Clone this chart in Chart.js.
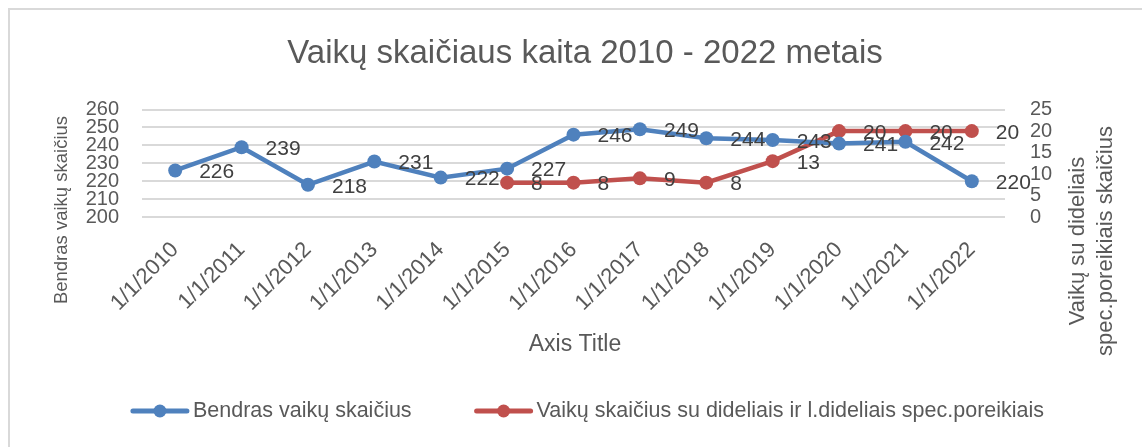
<!DOCTYPE html>
<html>
<head>
<meta charset="utf-8">
<script src="https://cdn.jsdelivr.net/npm/chart.js@4/dist/chart.umd.min.js"></script>
<style>
  html, body { margin: 0; padding: 0; background: #fff; }
  #wrap { position: relative; width: 1142px; height: 447px; overflow: hidden; }
  #frame { position: absolute; left: 8px; top: 8px; width: 1200px; height: 500px;
           border-left: 2px solid #d9d9d9; border-top: 2px solid #d9d9d9; }
  canvas { position: absolute; left: 0; top: 0; }
</style>
</head>
<body>
<div id="wrap">
  <div id="frame"></div>
  <canvas id="vaikaichart" width="1142" height="447"></canvas>
</div>
<script>
const years = ["1/1/2010", "1/1/2011", "1/1/2012", "1/1/2013", "1/1/2014", "1/1/2015", "1/1/2016",
               "1/1/2017", "1/1/2018", "1/1/2019", "1/1/2020", "1/1/2021", "1/1/2022"];
const bendras = [226, 239, 218, 231, 222, 227, 246, 249, 244, 243, 241, 242, 220];
const specPoreikiai = [null, null, null, null, null, 8, 8, 9, 8, 13, 20, 20, 20];
const leftTicks = [200, 210, 220, 230, 240, 250, 260];
const rightTicks = [0, 5, 10, 15, 20, 25];

const blue = "#4f81bd";
const red = "#c0504d";
const txt = "#595959";
const fontName = "'Liberation Sans', Arial, sans-serif";

// value labels right of each point
const pointLabels = {
    id: "pointLabels",
    afterDatasetsDraw(chart) {
        const ctx = chart.ctx;
        ctx.save();
        ctx.font = "21px " + fontName;
        ctx.fillStyle = "#404040";
        ctx.textAlign = "left";
        ctx.textBaseline = "middle";
        chart.data.datasets.forEach((ds, i) => {
            chart.getDatasetMeta(i).data.forEach((pt, j) => {
                if (ds.data[j] === null) return;
                ctx.fillText(ds.data[j], pt.x + 24, pt.y + 2);
            });
        });
        ctx.restore();
    }
};

// axis titles, placed like in the excel sheet
const axisTitles = {
    id: "axisTitles",
    afterDraw(chart) {
        const ctx = chart.ctx;
        ctx.save();
        ctx.fillStyle = txt;
        ctx.textAlign = "center";
        ctx.textBaseline = "middle";

        ctx.font = "23px " + fontName;
        ctx.fillText("Axis Title", 575, 345);

        ctx.save();
        ctx.font = "18.5px " + fontName;
        ctx.translate(62, 210);
        ctx.rotate(-Math.PI / 2);
        ctx.fillText("Bendras vaikų skaičius", 0, 0);
        ctx.restore();

        ctx.save();
        ctx.font = "22px " + fontName;
        ctx.translate(1078, 241);
        ctx.rotate(-Math.PI / 2);
        ctx.fillText("Vaikų su dideliais", 0, 0);
        ctx.fillText("spec.poreikiais skaičius", 0, 28);
        ctx.restore();

        ctx.restore();
    }
};

// legend at the bottom: line with dot, then the series name
const bottomLegend = {
    id: "bottomLegend",
    afterDraw(chart) {
        const ctx = chart.ctx;
        const sets = chart.data.datasets;
        const markW = 60, markGap = 3, itemGap = 62, y = 411;
        ctx.save();
        ctx.font = "21.5px " + fontName;
        const widths = sets.map(ds => ctx.measureText(ds.label).width);
        let total = 0;
        widths.forEach(w => { total += markW + markGap + w; });
        total += itemGap * (sets.length - 1);
        let x = 587 - total / 2;
        sets.forEach((ds, i) => {
            ctx.strokeStyle = ds.borderColor;
            ctx.lineWidth = 5;
            ctx.lineCap = "round";
            ctx.beginPath();
            ctx.moveTo(x + 3, y);
            ctx.lineTo(x + markW - 3, y);
            ctx.stroke();
            ctx.fillStyle = ds.borderColor;
            ctx.beginPath();
            ctx.arc(x + markW / 2, y, 6.5, 0, Math.PI * 2);
            ctx.fill();
            ctx.fillStyle = txt;
            ctx.textAlign = "left";
            ctx.textBaseline = "middle";
            ctx.fillText(ds.label, x + markW + markGap, y);
            x += markW + markGap + widths[i] + itemGap;
        });
        ctx.restore();
    }
};

const vaikaiChart = new Chart(document.getElementById("vaikaichart"), {
    type: "line",
    data: {
        labels: years,
        datasets: [
            {
                label: "Bendras vaikų skaičius",
                data: bendras,
                yAxisID: "y",
                borderColor: blue,
                backgroundColor: blue,
                borderWidth: 4.5,
                pointRadius: 7,
                pointBackgroundColor: blue,
                pointBorderWidth: 0,
                tension: 0
            },
            {
                label: "Vaikų skaičius su dideliais ir l.dideliais spec.poreikiais",
                data: specPoreikiai,
                yAxisID: "y1",
                borderColor: red,
                backgroundColor: red,
                borderWidth: 4.5,
                pointRadius: 7,
                pointBackgroundColor: red,
                pointBorderWidth: 0,
                tension: 0
            }
        ]
    },
    options: {
        responsive: false,
        animation: false,
        layout: {
            padding: { left: 28, right: 0, top: 0, bottom: 60 }
        },
        plugins: {
            title: {
                display: true,
                text: "Vaikų skaičiaus kaita 2010 - 2022 metais",
                color: txt,
                font: { family: fontName, size: 33, weight: "normal" },
                padding: { top: 34, bottom: 36 }
            },
            legend: { display: false },
            tooltip: { enabled: false }
        },
        scales: {
            x: {
                offset: true,
                grid: { display: false, drawTicks: false },
                border: { display: false },
                ticks: {
                    color: txt,
                    font: { family: fontName, size: 22 },
                    minRotation: 45,
                    maxRotation: 45,
                    autoSkip: false,
                    padding: 20
                },
                afterFit(s) { s.height = 170; }
            },
            y: {
                position: "left",
                min: 200,
                max: 260,
                afterBuildTicks(s) { s.ticks = leftTicks.map(v => ({ value: v })); },
                grid: { color: "#d9d9d9", lineWidth: 2, drawTicks: false },
                border: { display: false },
                ticks: {
                    color: txt,
                    font: { family: fontName, size: 20 },
                    autoSkip: false,
                    padding: 23
                },
                afterFit(s) { s.width = 114; }
            },
            y1: {
                position: "right",
                min: 0,
                max: 25,
                afterBuildTicks(s) { s.ticks = rightTicks.map(v => ({ value: v })); },
                grid: { display: false, drawTicks: false },
                border: { display: false },
                ticks: {
                    color: txt,
                    font: { family: fontName, size: 20 },
                    autoSkip: false,
                    padding: 25
                },
                afterFit(s) { s.width = 137; }
            }
        }
    },
    plugins: [pointLabels, axisTitles, bottomLegend]
});
</script>
</body>
</html>
